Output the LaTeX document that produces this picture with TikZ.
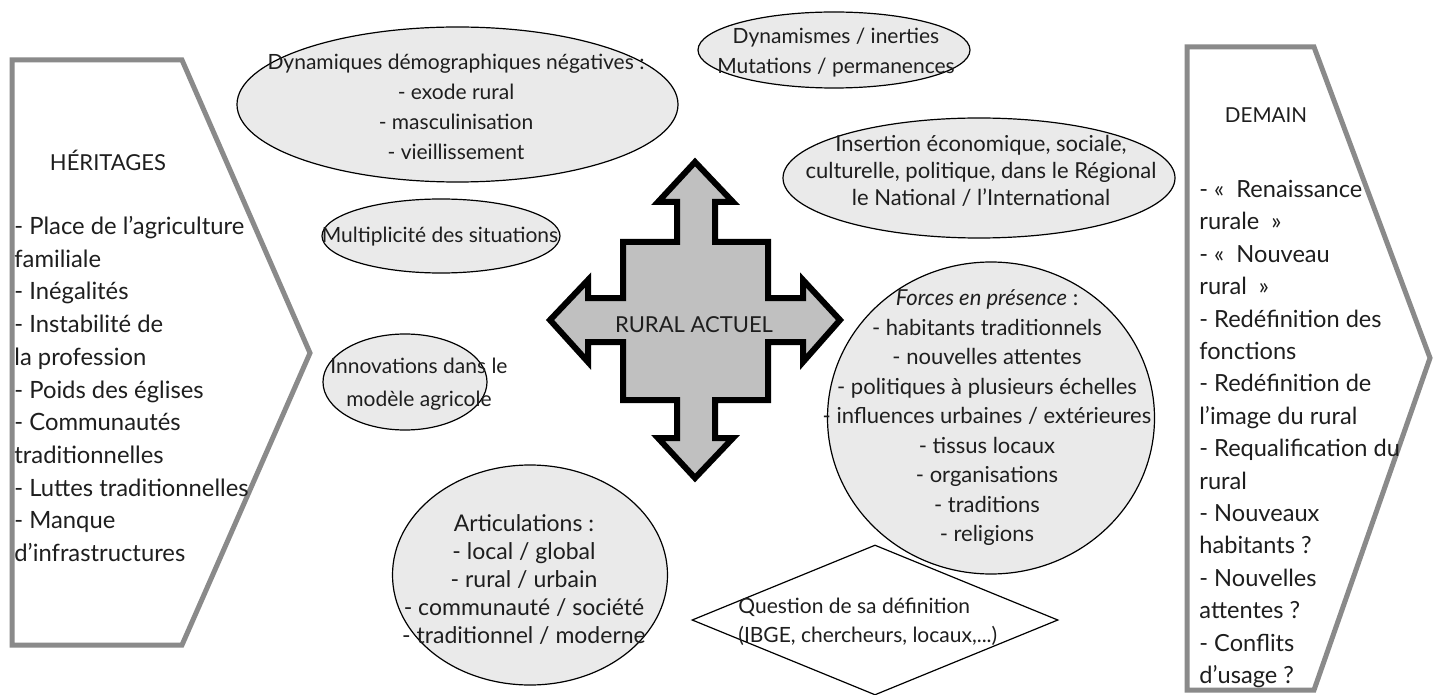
\documentclass[tikz,border=0pt]{standalone}
\usepackage{fontspec}
\setmainfont{Lato}
\usetikzlibrary{shapes.geometric}
\definecolor{ellgray}{HTML}{EAEAEA}
\definecolor{txtcol}{HTML}{1E1E1E}
\definecolor{chevgray}{HTML}{8A8A8A}
\definecolor{arrowgray}{HTML}{C0C0C0}
\begin{document}
\begin{tikzpicture}[x=0.5pt,y=-0.5pt,
  ell/.style={ellipse, draw=black, line width=0.6pt, fill=ellgray, inner sep=0pt},
  txt/.style={font=\fontsize{10.5}{13.5}\selectfont, text=txtcol, align=center, inner sep=0pt},
  chev/.style={draw=chevgray, line width=2.5pt, fill=white, line join=miter},
  cross/.style={draw=black, line width=3pt, fill=arrowgray, line join=miter}
]
\useasboundingbox (0,0) rectangle (1434,695);
\fill[white] (0,0) rectangle (1434,695);

% left chevron
\draw[chev] (12,60) -- (182,60) -- (310,353) -- (182,645) -- (12,645) -- cycle;
\node[txt, font=\fontsize{11}{14}\selectfont] (herit) at (108,160) {HÉRITAGES};
\node[txt, align=left, anchor=west, font=\fontsize{11.9}{16.35}\selectfont] (heritlist) at (14,389)
 {- Place de l'agriculture\\familiale\\- Inégalités\\- Instabilité de\\la profession\\- Poids des églises\\- Communautés\\traditionnelles\\- Luttes traditionnelles\\- Manque\\d'infrastructures};

% right chevron
\draw[chev] (1187,47) -- (1314,47) -- (1430,358) -- (1314,690) -- (1187,690) -- cycle;
\node[txt, font=\fontsize{10.3}{14}\selectfont] (demain) at (1266,115) {DEMAIN};
\node[txt, align=left, anchor=west, font=\fontsize{11.8}{16.2}\selectfont] (demainlist) at (1199,434)
 {- «\ \ Renaissance\\rurale\ \ »\\- «\ \ Nouveau\\rural\ \ »\\- Redéfinition des\\fonctions\\- Redéfinition de\\l'image du rural\\- Requalification du\\rural\\- Nouveaux\\habitants ?\\- Nouvelles\\attentes ?\\- Conflits\\d'usage ?};

% ellipses
\node[ell, minimum width=220.5pt, minimum height=77.5pt] (dyn) at (457.5,104.5) {};
\node[txt, font=\fontsize{10.5}{15}\selectfont] (dyntxt) at (456,107) {Dynamiques démographiques négatives :\\- exode rural\\- masculinisation\\- vieillissement};

\node[ell, minimum width=136pt, minimum height=38pt] (dynam) at (834,50) {};
\node[txt, font=\fontsize{10.5}{15}\selectfont] (dynamtxt) at (836,53) {Dynamismes / inerties\\Mutations / permanences};

\node[ell, minimum width=196pt, minimum height=60pt] (ins) at (979,178) {};
\node[txt, font=\fontsize{11}{13.4}\selectfont] (instxt) at (981,171) {Insertion économique, sociale,\\culturelle, politique, dans le Régional\\le National / l'International};

\node[ell, minimum width=119pt, minimum height=37pt] (mult) at (441,236) {};
\node[txt] (multtxt) at (440,237) {Multiplicité des situations};

\node[ell, minimum width=82pt, minimum height=48pt] (innov) at (405,382) {};
\node[txt, font=\fontsize{10.5}{16.5}\selectfont] (innovtxt) at (419,384) {Innovations dans le\\modèle agricole};

\node[ell, minimum width=163.5pt, minimum height=156pt] (forces) at (991,418) {};
\node[txt, font=\fontsize{11}{14.75}\selectfont] (forcestxt) at (987,418) {\textit{Forces en présence} :\\- habitants traditionnels\\- nouvelles attentes\\- politiques à plusieurs échelles\\- influences urbaines / extérieures\\- tissus locaux\\- organisations\\- traditions\\- religions};

\node[ell, minimum width=137.5pt, minimum height=110pt] (artic) at (530,575) {};
\node[txt, font=\fontsize{11.5}{14}\selectfont] (artictxt) at (524,580) {Articulations :\\- local / global\\- rural / urbain\\- communauté / société\\- traditionnel / moderne};

% diamond
\node[diamond, draw=black, line width=0.6pt, fill=white, inner sep=0pt, minimum width=183pt, minimum height=75pt] (def) at (875,620) {};
\node[txt, align=left, anchor=west, font=\fontsize{10.5}{14.5}\selectfont] (deftxt) at (738,622) {Question de sa définition\\(IBGE, chercheurs, locaux,...)};

% central four-way arrow
\draw[cross] (695,162) -- (733,202) -- (715,202) -- (715,242) -- (768,242) -- (768,298) -- (803,298) -- (803,280) -- (840,320) -- (803,362) -- (803,342) -- (768,342) -- (768,400) -- (715,400) -- (715,438) -- (733,438) -- (695,478) -- (658,438) -- (677,438) -- (677,400) -- (623,400) -- (623,342) -- (588,342) -- (588,362) -- (550,320) -- (588,280) -- (588,298) -- (623,298) -- (623,242) -- (677,242) -- (677,202) -- (658,202) -- cycle;
\node[txt, font=\fontsize{11}{14}\selectfont] (rural) at (694,325) {RURAL ACTUEL};
\end{tikzpicture}
\end{document}
